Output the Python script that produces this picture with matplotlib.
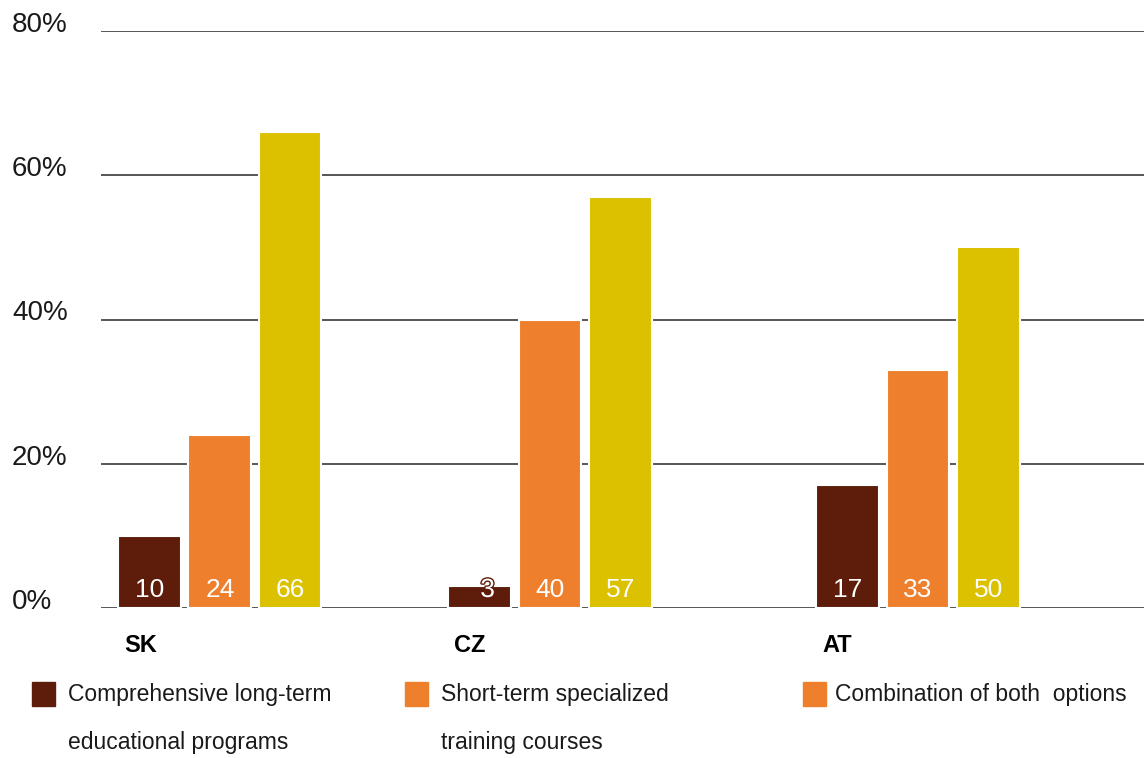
import numpy as np
import matplotlib
matplotlib.use("Agg")
import matplotlib.pyplot as plt
import matplotlib.patheffects as pe
from matplotlib.patches import Rectangle

plt.rcParams['font.family'] = ['Liberation Sans', 'DejaVu Sans']

countries = ["SK", "CZ", "AT"]
series_names = ["Comprehensive long-term\n\neducational programs",
                "Short-term specialized\n\ntraining courses",
                "Combination of both  options"]
long_term = [10, 3, 17]
short_term = [24, 40, 33]
combined = [66, 57, 50]
yticks = [0, 20, 40, 60, 80]

colors = ["#5e1d0b", "#ee7f2d", "#dbc100"]
legend_colors = ["#5e1d0b", "#ee7f2d", "#ee7f2d"]

# group centres (uneven spacing like the original)
group_x = np.array([0.0, 1.0, 2.115])
bar_w = 0.19
step = 0.213

fig = plt.figure(figsize=(11.44, 7.58), dpi=100)
ax = fig.add_axes([101 / 1144, 1 - 608 / 758, 1 - 101 / 1144, (608 - 31) / 758])
ax.set_xlim(-0.36, 2.80)
ax.set_ylim(0, 80)

for y in yticks:
    ax.axhline(y, color="#555555", lw=1.4, zorder=1)
    ax.annotate(f"{y}%", xy=(0, y), xycoords=ax.get_yaxis_transform(),
                xytext=(-89, 6), textcoords="offset pixels",
                ha="left", va="center", fontsize=20, color="#1a1a1a")

for i, vals in enumerate([long_term, short_term, combined]):
    xs = group_x + (i - 1) * step
    ax.bar(xs, vals, width=bar_w, color=colors[i], edgecolor="white",
           linewidth=1.5, zorder=2)
    for x, v in zip(xs, vals):
        small = v < 5
        t = ax.annotate(str(v), xy=(x, 0), xytext=(8 if small else 0, 18),
                        textcoords="offset pixels", ha="center", va="center",
                        fontsize=19, color="white", zorder=3)
        if small:
            t.set_path_effects([pe.withStroke(linewidth=2, foreground=colors[i])])

for x, c in zip(group_x - step - bar_w / 2, countries):
    ax.annotate(c, xy=(x, 0), xytext=(6, -38), textcoords="offset pixels",
                ha="left", va="center", fontsize=17, fontweight="bold")

ax.axis("off")

# legend built by hand (two-line labels)
leg_x = [32, 405, 803]
for lx, col, name in zip(leg_x, legend_colors, series_names):
    fig.patches.append(Rectangle((lx / 1144, 1 - 706 / 758), 23 / 1144, 24 / 758,
                                 transform=fig.transFigure, color=col))
    lines = name.split("\n\n")
    for k, t in enumerate(lines):
        fig.text((lx + 36 if lx != 803 else lx + 32) / 1144, 1 - (694 + 48 * k) / 758, t,
                 ha="left", va="center", fontsize=16.5, color="#1a1a1a")

fig.savefig("out.png", dpi=100)
